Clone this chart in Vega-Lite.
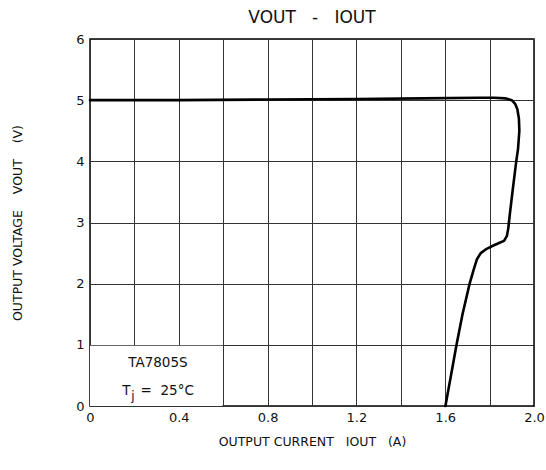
{
  "$schema": "https://vega.github.io/schema/vega-lite/v6.json",
  "width": 444,
  "height": 367,
  "autosize": "none",
  "padding": {"left": 90, "top": 39, "right": 12, "bottom": 64},
  "background": "white",
  "config": {
    "font": "DejaVu Sans",
    "view": {"stroke": "#000", "strokeWidth": 1.5}
  },
  "title": {"text": "VOUT\u00a0\u00a0\u00a0-\u00a0\u00a0\u00a0IOUT", "fontSize": 17, "fontWeight": "normal", "font": "DejaVu Sans", "color": "#111", "offset": 6, "anchor": "middle"},
  "datasets": {
    "curve": [
      {"i": 0, "current": 0.0, "voltage": 5.0},
      {"i": 1, "current": 0.4, "voltage": 5.0},
      {"i": 2, "current": 0.8, "voltage": 5.01},
      {"i": 3, "current": 1.2, "voltage": 5.02},
      {"i": 4, "current": 1.5, "voltage": 5.03},
      {"i": 5, "current": 1.75, "voltage": 5.04},
      {"i": 6, "current": 1.82, "voltage": 5.04},
      {"i": 7, "current": 1.87, "voltage": 5.03},
      {"i": 8, "current": 1.9, "voltage": 5.0},
      {"i": 9, "current": 1.915, "voltage": 4.94},
      {"i": 10, "current": 1.925, "voltage": 4.85},
      {"i": 11, "current": 1.932, "voltage": 4.7},
      {"i": 12, "current": 1.934, "voltage": 4.5},
      {"i": 13, "current": 1.928, "voltage": 4.2},
      {"i": 14, "current": 1.92, "voltage": 4.0},
      {"i": 15, "current": 1.904, "voltage": 3.53},
      {"i": 16, "current": 1.89, "voltage": 3.1},
      {"i": 17, "current": 1.884, "voltage": 2.9},
      {"i": 18, "current": 1.878, "voltage": 2.78},
      {"i": 19, "current": 1.865, "voltage": 2.7},
      {"i": 20, "current": 1.84, "voltage": 2.66},
      {"i": 21, "current": 1.815, "voltage": 2.62},
      {"i": 22, "current": 1.787, "voltage": 2.57},
      {"i": 23, "current": 1.76, "voltage": 2.5},
      {"i": 24, "current": 1.743, "voltage": 2.4},
      {"i": 25, "current": 1.73, "voltage": 2.25},
      {"i": 26, "current": 1.71, "voltage": 2.0},
      {"i": 27, "current": 1.678, "voltage": 1.5},
      {"i": 28, "current": 1.651, "voltage": 1.0},
      {"i": 29, "current": 1.626, "voltage": 0.5},
      {"i": 30, "current": 1.601, "voltage": 0.0}
    ],
    "box": [{"x": 0, "x2": 0.597, "y": 0, "y2": 0.985}],
    "notes": [
      {"text": "TA7805S", "x": 0.306, "y": 0.7}
    ],
    "tjT": [{"text": "T", "x": 0.145, "y": 0.25}],
    "tjj": [{"text": "j", "x": 0.186, "y": 0.25}],
    "tjRest": [{"text": "=\u00a0 25°C", "x": 0.228, "y": 0.25}]
  },
  "layer": [
    {
      "data": {"name": "box"},
      "mark": {"type": "rect", "fill": "white", "stroke": null},
      "encoding": {
        "x": {"field": "x", "type": "quantitative", "scale": {"domain": [0, 2], "nice": false},
          "axis": {"values": [0, 0.2, 0.4, 0.6, 0.8, 1.0, 1.2, 1.4, 1.6, 1.8, 2.0],
            "labelExpr": "round(datum.value*10) % 4 == 0 ? (datum.value == 0 ? '0' : format(datum.value, '.1f')) : ''",
            "grid": true, "gridColor": "#333", "gridWidth": 1, "gridOpacity": 1,
            "ticks": false, "domain": false, "labelFontSize": 13, "labelColor": "#111", "labelPadding": 5,
            "labelFont": "DejaVu Sans", "labelFlush": false,
            "title": "OUTPUT CURRENT\u00a0\u00a0\u00a0IOUT\u00a0\u00a0\u00a0(A)", "titleFontSize": 12.5, "titleFontWeight": "normal",
            "titleColor": "#111", "titlePadding": 11, "titleFont": "DejaVu Sans"}},
        "x2": {"field": "x2"},
        "y": {"field": "y", "type": "quantitative", "scale": {"domain": [0, 6], "nice": false},
          "axis": {"values": [0, 0.5, 1, 1.5, 2, 2.5, 3, 3.5, 4, 4.5, 5, 5.5, 6],
            "labelExpr": "datum.value % 1 == 0 ? format(datum.value, 'd') : ''",
            "grid": true, "gridColor": "#333", "gridWidth": 1, "gridOpacity": 1,
            "ticks": false, "domain": false, "labelFontSize": 13, "labelColor": "#111", "labelPadding": 6,
            "labelFont": "DejaVu Sans", "labelFlush": false,
            "title": "OUTPUT VOLTAGE\u00a0\u00a0\u00a0\u00a0VOUT\u00a0\u00a0\u00a0\u00a0(V)", "titleFontSize": 12.5, "titleFontWeight": "normal",
            "titleColor": "#111", "titlePadding": 51, "titleFont": "DejaVu Sans"}},
        "y2": {"field": "y2"}
      }
    },
    {
      "data": {"name": "curve"},
      "mark": {"type": "line", "color": "#000", "strokeWidth": 2.6, "interpolate": "linear", "strokeJoin": "round", "strokeCap": "round"},
      "encoding": {
        "x": {"field": "current", "type": "quantitative"},
        "y": {"field": "voltage", "type": "quantitative"},
        "order": {"field": "i", "type": "quantitative"}
      }
    },
    {
      "data": {"name": "notes"},
      "mark": {"type": "text", "fontSize": 13.5, "font": "DejaVu Sans", "color": "#111", "align": "center", "baseline": "middle"},
      "encoding": {
        "x": {"field": "x", "type": "quantitative"},
        "y": {"field": "y", "type": "quantitative"},
        "text": {"field": "text"}
      }
    },
    {
      "data": {"name": "tjT"},
      "mark": {"type": "text", "fontSize": 13.5, "font": "DejaVu Sans", "color": "#111", "align": "left", "baseline": "middle"},
      "encoding": {
        "x": {"field": "x", "type": "quantitative"},
        "y": {"field": "y", "type": "quantitative"},
        "text": {"field": "text"}
      }
    },
    {
      "data": {"name": "tjj"},
      "mark": {"type": "text", "fontSize": 12, "font": "DejaVu Sans", "color": "#111", "align": "left", "baseline": "middle", "dy": 5},
      "encoding": {
        "x": {"field": "x", "type": "quantitative"},
        "y": {"field": "y", "type": "quantitative"},
        "text": {"field": "text"}
      }
    },
    {
      "data": {"name": "tjRest"},
      "mark": {"type": "text", "fontSize": 13.5, "font": "DejaVu Sans", "color": "#111", "align": "left", "baseline": "middle"},
      "encoding": {
        "x": {"field": "x", "type": "quantitative"},
        "y": {"field": "y", "type": "quantitative"},
        "text": {"field": "text"}
      }
    }
  ]
}
